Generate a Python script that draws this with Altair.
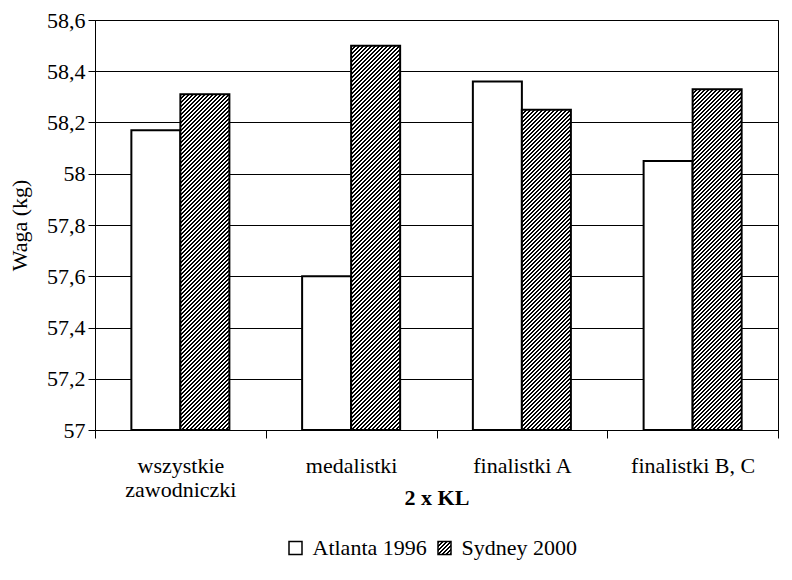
import altair as alt
import pandas as pd

# ---- data ----
categories = ["wszystkie|zawodniczki", "medalistki", "finalistki A", "finalistki B, C"]
series = ["Atlanta 1996", "Sydney 2000"]
atlanta_1996 = [58.17, 57.60, 58.36, 58.05]
sydney_2000 = [58.31, 58.50, 58.25, 58.33]
y_ticks = [57.0, 57.2, 57.4, 57.6, 57.8, 58.0, 58.2, 58.4, 58.6]
y_min, y_max = 57.0, 58.6

rows = []
for c, a, s in zip(categories, atlanta_1996, sydney_2000):
    rows.append({"kat": c, "seria": series[0], "waga": a})
    rows.append({"kat": c, "seria": series[1], "waga": s})
df = pd.DataFrame(rows)

FONT = "Liberation Serif"
FS = 22

W, H = 683, 410
OFF_PAD = 0.742           # outer padding of the 2-bar group inside a category
BAR_W = (W / len(categories)) / (2 + 2 * OFF_PAD)


def hatch(w, h, period=4.0, dark=0.5):
    """Diagonal (////) hatch made from a hard-stop linear gradient (bbox units)."""
    iw, ih = 1.0 / w, 1.0 / h
    t = (ih + iw) / (ih ** 2 + iw ** 2)
    x2, y2 = t * ih, t * iw
    n = (w + h) / period
    stops = []
    i = 0
    while i / n < 1:
        a = i / n
        b = min((i + dark) / n, 1.0)
        c = min((i + 1) / n, 1.0)
        stops += [
            {"offset": a, "color": "#000000"},
            {"offset": b, "color": "#000000"},
            {"offset": b, "color": "#ffffff"},
            {"offset": c, "color": "#ffffff"},
        ]
        i += 1
    return {"gradient": "linear", "x1": 0, "y1": 0, "x2": x2, "y2": y2, "stops": stops}


# one gradient per hatched bar so the stripes keep the same angle and pitch
conds = []
for c, v in zip(categories, sydney_2000):
    h = (v - y_min) / (y_max - y_min) * H
    conds.append({
        "test": f"datum.seria === '{series[1]}' && datum.kat === '{c}'",
        "value": hatch(BAR_W, h),
    })
bar_fill = alt.FillValue(value="white", condition=conds)

bars = alt.Chart(df).mark_bar(stroke="black", strokeWidth=2, strokeJoin="miter").encode(
    x=alt.X(
        "kat:N",
        sort=categories,
        scale=alt.Scale(paddingInner=0, paddingOuter=0),
        axis=alt.Axis(
            title="2 x KL",
            labelAngle=0,
            labelExpr="split(datum.label, '|')",
            tickBand="extent",
            grid=False,
            domainColor="black",
            tickColor="black",
            tickSize=8,
            labelPadding=17,
            labelLineHeight=24,
            labelFont=FONT,
            labelFontSize=FS,
            labelColor="black",
            titleFont=FONT,
            titleFontSize=FS,
            titleFontWeight="bold",
            titleColor="black",
            titleY=57,
            titleBaseline="top",
        ),
    ),
    xOffset=alt.XOffset(
        "seria:N", sort=series, scale=alt.Scale(paddingInner=0, paddingOuter=OFF_PAD)
    ),
    y=alt.Y(
        "waga:Q",
        scale=alt.Scale(domain=[y_min, y_max], zero=False, nice=False),
        axis=alt.Axis(
            title="Waga (kg)",
            values=y_ticks,
            labelExpr="replace(format(datum.value, '.1~f'), '.', ',')",
            gridColor="black",
            gridOpacity=1,
            gridWidth=1,
            domainColor="black",
            tickColor="black",
            tickSize=7,
            labelPadding=3,
            labelFont=FONT,
            labelFontSize=FS,
            labelColor="black",
            titleFont=FONT,
            titleFontSize=FS,
            titleFontWeight="normal",
            titleColor="black",
            titlePadding=15,
        ),
    ),
    y2=alt.datum(y_min),
    fill=bar_fill,
).properties(width=W, height=H, view=alt.ViewBackground(stroke="black", strokeWidth=1))

# ---- legend drawn as a small chart under the plot ----
LEG_STEP = 149
LEG_START = 126
leg_df = pd.DataFrame({"seria": series})
leg_x = alt.X(
    "seria:N", sort=series, axis=None, bandPosition=0,
    scale=alt.Scale(
        paddingInner=0, paddingOuter=0,
        range=[LEG_START, LEG_START + 2 * LEG_STEP],
    ),
)
leg_sq = alt.Chart(leg_df).mark_square(
    size=169, filled=True, stroke="black", strokeWidth=1.5, dx=7, opacity=1
).encode(
    x=leg_x,
    fill=alt.condition(
        alt.datum.seria == series[1], alt.value(hatch(13, 13)), alt.value("white")
    ),
)
leg_tx = alt.Chart(leg_df).mark_text(
    align="left", baseline="middle", dx=17, font=FONT, fontSize=FS, color="black"
).encode(x=leg_x, text="seria:N")
legend = alt.layer(leg_sq, leg_tx).properties(
    width=W, height=20, view=alt.ViewBackground(stroke=None)
)

chart = alt.vconcat(bars, legend, spacing=108, bounds="flush").properties(
    padding={"left": 0, "top": 0, "right": 2, "bottom": 2}
)

chart.save("out.html", embed_options={"renderer": "svg", "actions": False})
